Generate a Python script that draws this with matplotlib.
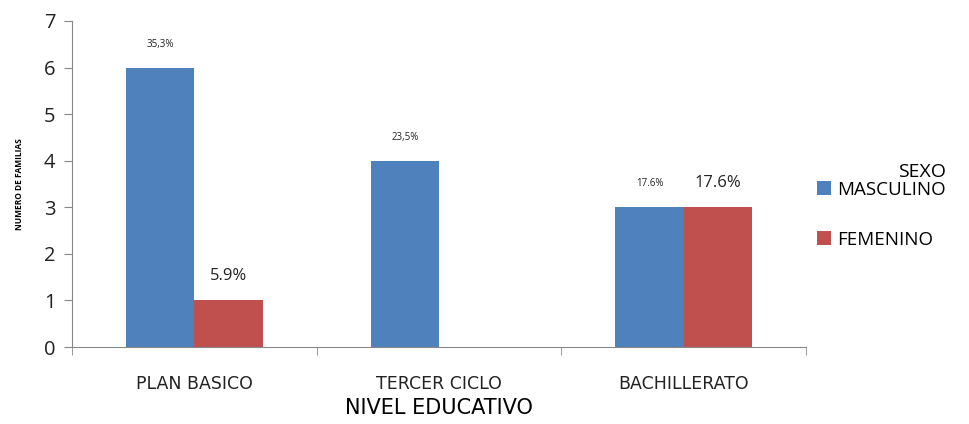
import numpy as np
import matplotlib
matplotlib.use('Agg')
import matplotlib.pyplot as plt
from matplotlib.ticker import FixedLocator

# Data
categories = ['PLAN BASICO', 'TERCER CICLO', 'BACHILLERATO']
masculino = [6, 4, 3]
femenino = [1, 0, 3]
masc_labels = ['35,3%', '23,5%', '17.6%']
fem_labels = ['5.9%', '', '17.6%']
yticks = [0, 1, 2, 3, 4, 5, 6, 7]

blue = '#4F81BD'
red = '#C0504D'
font = ['Liberation Sans Narrow', 'DejaVu Sans']
plt.rcParams['font.family'] = ['Open Sans', 'DejaVu Sans']

fig = plt.figure(figsize=(9.7, 4.24), dpi=100)
ax = fig.add_axes([0.0742, 0.1816, 0.831 - 0.0742, 0.9505 - 0.1816])

x = np.arange(len(categories))
w = 0.28
barsM = ax.bar(x - w / 2, masculino, w, color=blue, label='MASCULINO')
barsF = ax.bar(x + w / 2, femenino, w, color=red, label='FEMENINO')

# Data labels
for bar, lab in zip(barsM, masc_labels):
    ax.annotate(lab, (bar.get_x() + bar.get_width() / 2, bar.get_height()),
                xytext=(0, 13), textcoords='offset points', ha='center',
                va='bottom', fontsize=7, color='#222222')
for bar, lab in zip(barsF, fem_labels):
    if lab:
        ax.annotate(lab, (bar.get_x() + bar.get_width() / 2, bar.get_height()),
                    xytext=(0, 12), textcoords='offset points', ha='center',
                    va='bottom', fontsize=12, color='#222222')

ax.set_xlim(-0.5, len(categories) - 0.5)
ax.set_ylim(0, 7)
ax.set_yticks(yticks)
ax.set_xticks(x)
ax.set_xticklabels(categories, fontsize=12.5, family=font)
ax.xaxis.set_minor_locator(FixedLocator(np.arange(-0.5, len(categories), 1.0)))
ax.tick_params(axis='x', which='major', length=0, pad=20, colors='#222222')
ax.tick_params(axis='x', which='minor', length=6, color='#888888', direction='out')
ax.tick_params(axis='y', length=6, color='#888888', labelsize=14.5, labelcolor='#222222', pad=6)

for s in ['top', 'right']:
    ax.spines[s].set_visible(False)
for s in ['left', 'bottom']:
    ax.spines[s].set_color('#888888')

ax.set_ylabel('NUMERO DE FAMILIAS', fontsize=6, fontweight='bold', labelpad=14)
ax.set_xlabel('NIVEL EDUCATIVO', fontsize=15, family=font, labelpad=4)

leg = ax.legend(title='SEXO', loc='upper left', bbox_to_anchor=(1.0, 0.60),
                frameon=False, fontsize=13.5, title_fontsize=14,
                handlelength=0.75, handleheight=0.75, handletextpad=0.3,
                labelspacing=1.7, borderaxespad=0.2)
leg._legend_box.align = 'right'
leg._legend_box.sep = 0

fig.savefig('out.png', dpi=100)
